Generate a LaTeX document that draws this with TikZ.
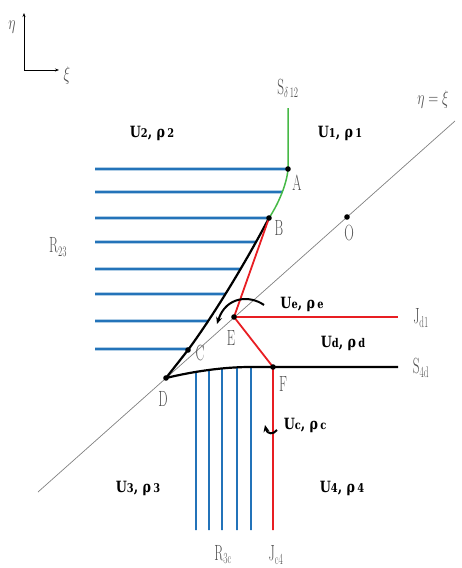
\documentclass[tikz,border=0pt]{standalone}
\usepackage{graphicx}
\usepackage{fontspec}
\newfontfamily\heavy{DejaVu Serif}
\usetikzlibrary{arrows.meta,intersections}
\definecolor{myblue}{RGB}{35,115,185}
\definecolor{myred}{RGB}{232,30,35}
\definecolor{mygreen}{RGB}{70,185,70}
\definecolor{txtgray}{RGB}{80,80,80}
\newcommand\thinlbl[1]{\scalebox{0.6}[1]{\fontsize{22}{22}\selectfont #1}}
\newcommand\ulbl[2]{\scalebox{0.82}[1]{\heavy\bfseries\fontsize{15.5}{15.5}\selectfont U{\fontsize{12}{12}\selectfont #1}, ρ\,{\fontsize{12}{12}\selectfont #2}}}
\begin{document}
\begin{tikzpicture}[x=1pt,y=-1pt,
  hatch/.style={myblue,line width=2.6pt},
  vhatch/.style={myblue,line width=1.6pt},
  redl/.style={myred,line width=1.8pt},
  blk/.style={black,line width=2.2pt},
  grn/.style={mygreen,line width=1.5pt},
  diag/.style={gray,line width=0.7pt},
  pt/.style={fill=black},
  thin/.style={text=txtgray,inner sep=0pt},
  ulab/.style={text=black,inner sep=0pt},
  turn/.style={black,line width=2pt,-{Stealth[length=7pt,width=6pt]}}]
\useasboundingbox (0,0) rectangle (462,568);
% axes
\coordinate (O0) at (24,70);
\coordinate (Oy) at (24,13);
\coordinate (Ox) at (59,70);
\draw[line width=0.8pt,-{Stealth[length=4pt,width=3pt]}] (O0) -- (Oy);
\draw[line width=0.8pt,-{Stealth[length=4pt,width=3pt]}] (O0) -- (Ox);
\node[thin] (etaax) at (12,27) {\scalebox{0.8}[1.15]{\fontsize{18}{18}\selectfont$\eta$}};
\node[thin] (xiax) at (67,76) {\scalebox{0.8}[1.15]{\fontsize{18}{18}\selectfont$\xi$}};
% points
\coordinate (A) at (288,169);
\coordinate (B) at (269,218);
\coordinate (C) at (188,350);
\coordinate (D) at (166,378);
\coordinate (E) at (234,317);
\coordinate (F) at (273,367);
\coordinate (O) at (347,217);
\coordinate (Stop) at (288,108);
\coordinate (Jd) at (398,317);
\coordinate (Sd) at (398,367);
\coordinate (Jc) at (273,530);
\coordinate (L1) at (38,492);
\coordinate (L2) at (455,121);
\coordinate (G) at (250,367);
% diagonal
\draw[diag] (L1) -- (L2);
% boundary paths (for intersections)
\path[name path=upper] (Stop) -- (A) .. controls (287,183) and (279,203) .. (B)
   .. controls (248,258) and (216,312) .. (C) -- (D);
\path[name path=lower] (D) .. controls (195,371) and (225,367) .. (G) -- (F);
% horizontal rarefaction lines
\foreach \y in {169,192,218,242,269,294,321,349}{
  \path[name path=hl] (60,\y) -- (300,\y);
  \draw[hatch,name intersections={of=upper and hl,by=hx}] (95,\y) -- (hx);
}
% vertical rarefaction lines
\foreach \x in {196,209,222,237,251}{
  \path[name path=vl] (\x,330) -- (\x,540);
  \draw[vhatch,name intersections={of=lower and vl,by=vx}] (vx) -- (\x,530);
}
% green shock
\draw[grn] (Stop) -- (A) .. controls (287,183) and (279,203) .. (B);
% black boundary
\draw[blk] (B) .. controls (248,258) and (216,312) .. (C) -- (D);
\draw[blk] (D) .. controls (195,371) and (225,367) .. (G) -- (F) -- (Sd);
% red lines
\draw[redl] (B) -- (E) -- (F) -- (Jc);
\draw[redl] (E) -- (Jd);
% dots
\foreach \p in {A,B,C,D,E,F,O} \fill[pt] (\p) circle (2.8pt);
% turning arrows
\draw[turn] (264,305) .. controls (250,295) and (226,296) .. (217,324);
\draw[turn] (277,430) .. controls (273,435) and (267,434) .. (265,425);
% point labels
\node[thin] (lA) at (297,183) {\thinlbl{A}};
\node[thin] (lB) at (279,228) {\thinlbl{B}};
\node[thin] (lO) at (349,233) {\thinlbl{O}};
\node[thin] (lC) at (200,353) {\thinlbl{C}};
\node[thin] (lD) at (163,399) {\thinlbl{D}};
\node[thin] (lE) at (231,338) {\thinlbl{E}};
\node[thin] (lF) at (283,384) {\thinlbl{F}};
% curve labels
\node[thin] (lS12) at (288,88) {\thinlbl{S$_{\delta\,12}$}};
\node[thin] (lR23) at (58,247) {\thinlbl{R$_{23}$}};
\node[thin] (lJd1) at (421,318) {\thinlbl{J$_{\mathrm{d1}}$}};
\node[thin] (lS4d) at (421,368) {\thinlbl{S$_{\mathrm{4d}}$}};
\node[thin] (lR3c) at (223,555) {\thinlbl{R$_{\mathrm{3c}}$}};
\node[thin] (lJc4) at (276,555) {\thinlbl{J$_{\mathrm{c4}}$}};
\node[thin] (leq) at (433,100) {\scalebox{0.8}[1.15]{\fontsize{17}{17}\selectfont$\eta=\xi$}};
% state labels
\node[ulab] (s2) at (152,133) {\ulbl{2}{2}};
\node[ulab] (s1) at (340,133) {\ulbl{1}{1}};
\node[ulab] (se) at (302,304) {\ulbl{e}{e}};
\node[ulab] (sd) at (343,343) {\ulbl{d}{d}};
\node[ulab] (sc) at (305,425) {\ulbl{c}{c}};
\node[ulab] (s3) at (138,488) {\ulbl{3}{3}};
\node[ulab] (s4) at (342,488) {\ulbl{4}{4}};
\end{tikzpicture}
\end{document}
